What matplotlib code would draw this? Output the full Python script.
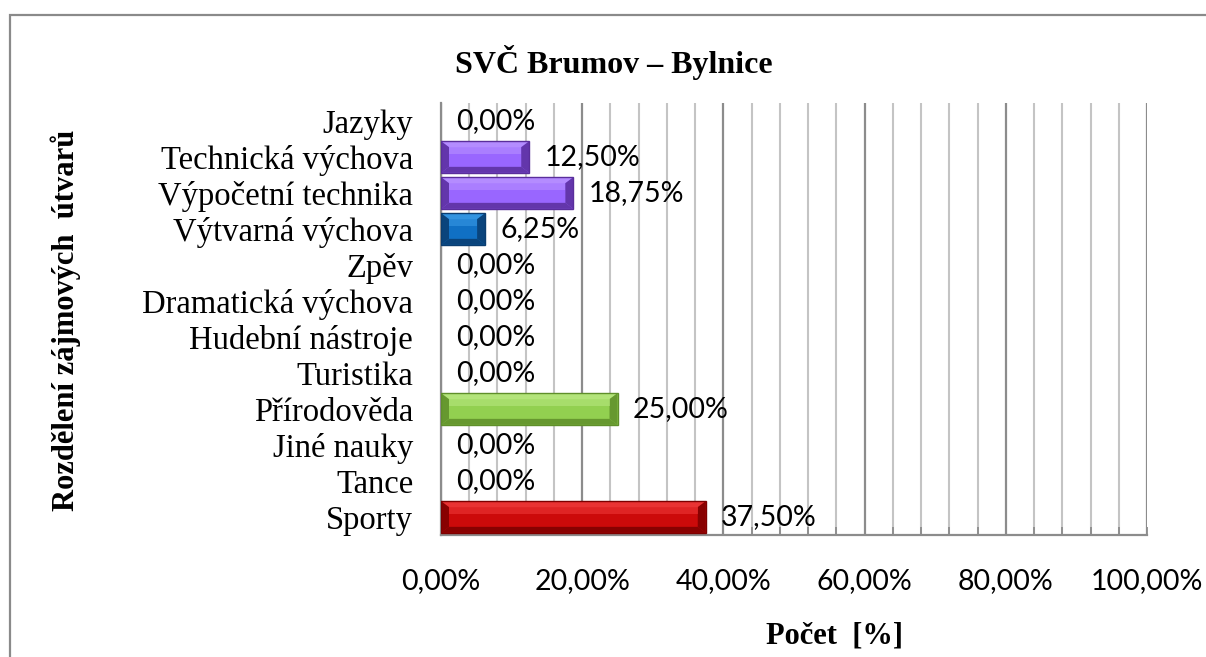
import matplotlib
matplotlib.use("Agg")
import matplotlib.pyplot as plt
from matplotlib.patches import Polygon, Rectangle
from matplotlib.ticker import MultipleLocator, FuncFormatter


# Excel order: first category is drawn at the bottom
categories = [
    "Sporty", "Tance", "Jiné nauky", "Přírodověda", "Turistika",
    "Hudební nástroje", "Dramatická výchova", "Zpěv", "Výtvarná výchova",
    "Výpočetní technika", "Technická výchova", "Jazyky",
]
values = [37.50, 0.00, 0.00, 25.00, 0.00, 0.00, 0.00, 0.00, 6.25, 18.75, 12.50, 0.00]
bar_colors = [
    "red", "red", "red", "green", "green", "green",
    "green", "green", "blue", "purple", "purple", "purple",
]

title = "SVČ Brumov – Bylnice"
xlabel = "Počet  [%]"
ylabel = "Rozdělení zájmových  útvarů"

# (face, highlight, dark) per colour name
PALETTE = {
    "red": ("#cc0a0a", "#ef3b3b", "#7d0000"),
    "green": ("#92d050", "#b9e882", "#5f8f2a"),
    "blue": ("#1070c4", "#3a9be6", "#0a3d70"),
    "purple": ("#9966ff", "#b993ff", "#5a2e9c"),
}

SERIF = "Liberation Serif"
SANS = "Lato"


def pct(v):
    return f"{v:.2f}%".replace(".", ",")


def bevel(ax, rect, face, light, dark, bx, by):
    x0, y0 = rect.get_x(), rect.get_y()
    x1, y1 = x0 + rect.get_width(), y0 + rect.get_height()
    if x1 - x0 <= 0:
        return
    bx = min(bx, (x1 - x0) / 2)
    shapes = [
        ([(x0, y1), (x1, y1), (x1 - bx, y1 - by), (x0 + bx, y1 - by)], light),
        ([(x0, y0), (x1, y0), (x1 - bx, y0 + by), (x0 + bx, y0 + by)], dark),
        ([(x0, y0), (x0, y1), (x0 + bx, y1 - by), (x0 + bx, y0 + by)], dark),
        ([(x1, y0), (x1, y1), (x1 - bx, y1 - by), (x1 - bx, y0 + by)], dark),
    ]
    for pts, c in shapes:
        ax.add_patch(Polygon(pts, closed=True, facecolor=c, edgecolor="none", zorder=3, alpha=0.85))
    # soft highlight on the upper part of the face
    hh = (y1 - y0 - 2 * by) * 0.35
    ax.add_patch(Rectangle((x0 + bx, y1 - by - hh), x1 - x0 - 2 * bx, hh,
                           facecolor=light, edgecolor="none", alpha=0.55, zorder=3))
    ax.add_patch(Rectangle((x0, y0), x1 - x0, y1 - y0, facecolor="none",
                           edgecolor=dark, lw=1.0, zorder=4))


def main() -> None:
    fig = plt.figure(figsize=(12.06, 6.57), dpi=100)
    ax = fig.add_axes([441 / 1206, 1 - 535 / 657, 706 / 1206, 432 / 657])

    ypos = list(range(len(categories)))
    faces = [PALETTE[c][0] for c in bar_colors]
    bars = ax.barh(ypos, values, height=0.88, color=faces, zorder=2)

    ax.set_xlim(0, 100)
    ax.set_ylim(-0.5, len(categories) - 0.5)

    # bevel width ~8 px horizontally, ~6 px vertically
    bx = 8 / 706 * 100
    by = 6 / 36
    for rect, cname in zip(bars, bar_colors):
        face, light, dark = PALETTE[cname]
        bevel(ax, rect, face, light, dark, bx, by)

    ax.bar_label(bars, labels=[pct(v) for v in values], padding=11,
                 fontsize=20.5, family=SANS, color="black", zorder=5)

    ax.set_yticks(ypos)
    ax.set_yticklabels(categories, family=SERIF, fontsize=23.5)
    ax.tick_params(axis="y", length=0, pad=20)

    ax.xaxis.set_major_locator(MultipleLocator(20))
    ax.xaxis.set_minor_locator(MultipleLocator(4))
    ax.xaxis.set_major_formatter(FuncFormatter(lambda v, p: pct(v)))
    ax.tick_params(axis="x", which="major", direction="in", length=6, width=1.3,
                   color="#8c8c8c", pad=24, labelsize=20.5)
    ax.tick_params(axis="x", which="minor", direction="in", length=6, width=1.3, color="#8c8c8c")
    for lab in ax.get_xticklabels():
        lab.set_family(SANS)

    ax.set_axisbelow(True)
    ax.grid(axis="x", which="minor", color="#c4c4c4", lw=1.5)
    ax.grid(axis="x", which="major", color="#8c8c8c", lw=1.6)

    for side in ("top", "right"):
        ax.spines[side].set_visible(False)
    for side in ("left", "bottom"):
        ax.spines[side].set_color("#8c8c8c")
        ax.spines[side].set_linewidth(1.6)

    fig.text(614 / 1206, 1 - 62 / 657, title, family=SERIF, fontweight="bold",
             fontsize=23, ha="center", va="center")
    fig.text(835 / 1206, 1 - 636 / 657, xlabel, family=SERIF, fontweight="bold",
             fontsize=22, ha="center", va="center")
    fig.text(66 / 1206, 1 - 320 / 657, ylabel, family=SERIF, fontweight="bold",
             fontsize=22, ha="center", va="center", rotation=90)

    fig.add_artist(Rectangle((9.5 / 1206, -0.1), 1.2, 1 - 15 / 657 + 0.1,
                             transform=fig.transFigure, fill=False,
                             edgecolor="#8a8a8a", lw=1.6))

    fig.savefig("out.png", dpi=100)
    plt.close(fig)


if __name__ == "__main__":
    main()
